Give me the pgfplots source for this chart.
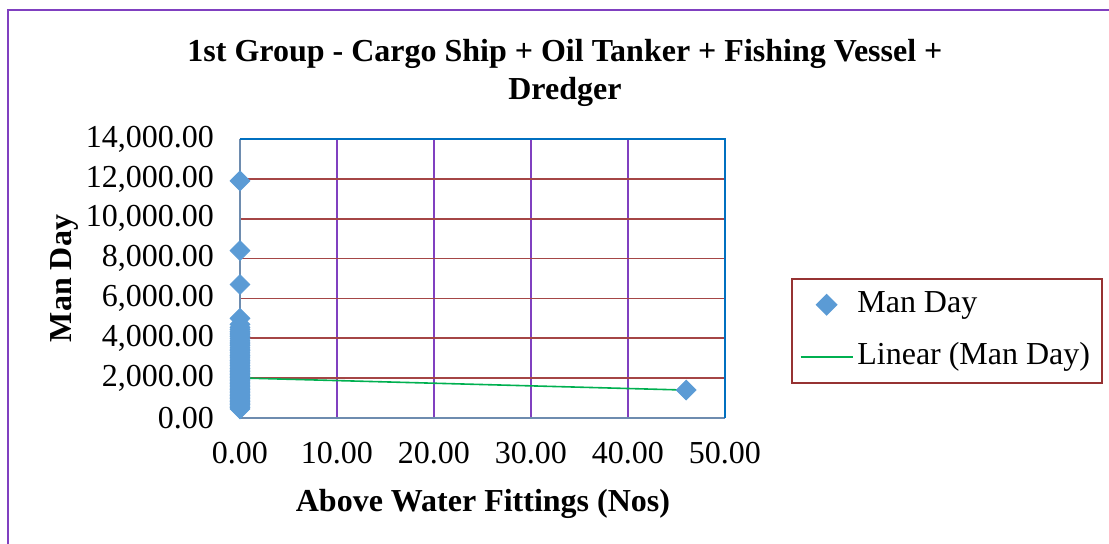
\documentclass[border=0pt]{standalone}
\usepackage{pgfplots}
\pgfplotsset{compat=1.18}
\usepackage{fontspec}
\setmainfont{Liberation Serif}

\definecolor{mdblue}{RGB}{91,155,213}
\definecolor{trendgreen}{RGB}{0,176,80}
\definecolor{hgrid}{RGB}{165,70,70}
\definecolor{vgrid}{RGB}{128,64,192}
\definecolor{framepurple}{RGB}{128,64,192}
\definecolor{axblue}{RGB}{0,112,192}
\definecolor{axgrey}{RGB}{110,140,175}
\definecolor{legred}{RGB}{150,50,50}

\pgfplotsset{
  markleg/.style={legend image code/.code={\draw[##1, mark repeat=2, mark phase=2]
    plot coordinates {(0pt,0pt) (13pt,0pt) (26pt,0pt)};}},
  lineleg/.style={legend image code/.code={\draw[##1] (0pt,0pt) -- (26pt,0pt);}},
}

\begin{document}
\begin{tikzpicture}
\useasboundingbox (-120pt,-63pt) rectangle (434.5pt,209pt);
% chart area border (only left and top show)
\draw[framepurple, line width=0.8pt] (-116pt,-80pt) -- (-116pt,204pt) -- (450pt,204pt);
\begin{axis}[
  at={(0,0)}, anchor=south west,
  scale only axis, width=242.5pt, height=139.5pt,
  xmin=0, xmax=50, ymin=0, ymax=14000,
  xtick={0,10,...,50}, ytick={0,2000,...,14000},
  scaled x ticks=false, scaled y ticks=false,
  /pgf/number format/.cd, fixed, fixed zerofill, precision=2, 1000 sep={,}, assume math mode=true,
  /pgfplots/.cd,
  tick style={draw=none},
  axis line style={draw=none},
  grid=major,
  major x grid style={vgrid, line width=0.8pt},
  major y grid style={hgrid, line width=0.8pt},
  ticklabel style={font=\fontsize{16}{18}\selectfont},
  xticklabel style={yshift=-8.5pt},
  yticklabel style={xshift=-9.5pt},
  clip=false,
  title={1st Group - Cargo Ship + Oil Tanker + Fishing Vessel +\\Dredger},
  title style={font=\fontsize{16}{19}\selectfont\bfseries, align=center,
    at={(axis description cs:0.67,1.194)}, anchor=center},
  xlabel={Above Water Fittings (Nos)},
  xlabel style={font=\fontsize{16}{18}\selectfont\bfseries,
    at={(axis description cs:0.501,-0.308)}, anchor=center},
  ylabel={Man Day},
  ylabel style={font=\fontsize{16}{18}\selectfont\bfseries,
    at={(axis description cs:-0.362,0.5)}, anchor=center},
  legend style={at={(axis description cs:1.136,0.502)}, anchor=north west,
    draw=legred, line width=0.8pt, font=\fontsize{16}{18}\selectfont,
    inner xsep=4pt, inner ysep=4pt, row sep=8pt,
    nodes={text height=11pt, text depth=3pt}},
  legend cell align=left,
]
% axis lines
\draw[axgrey, line width=1pt] (rel axis cs:0,1) -- (rel axis cs:0,0) -- (rel axis cs:1,0);
\draw[axblue, line width=1pt] (rel axis cs:0,1) -- (rel axis cs:1,1) -- (rel axis cs:1,0);

\addplot[only marks, mark=square*, mark size=3.5pt,
  mark options={rotate=45, fill=mdblue, draw=mdblue}, markleg]
  coordinates {
  (0,450) (0,520) (0,600) (0,680) (0,750) (0,820) (0,900) (0,980)
  (0,1050) (0,1120) (0,1200) (0,1280) (0,1350) (0,1420) (0,1500)
  (0,1580) (0,1650) (0,1720) (0,1800) (0,1880) (0,1950) (0,2030)
  (0,2100) (0,2180) (0,2250) (0,2330) (0,2400) (0,2480) (0,2560)
  (0,2640) (0,2720) (0,2800) (0,2880) (0,2960) (0,3050) (0,3130)
  (0,3210) (0,3300) (0,3380) (0,3460) (0,3550) (0,3640) (0,3720)
  (0,3810) (0,3900) (0,3990) (0,4080) (0,4170) (0,4260) (0,4350)
  (0,4450) (0,4550) (0,4700) (0,5000) (0,6700) (0,8400) (0,11900)
  (46,1400)
  };
\addlegendentry{Man Day}
\addplot[trendgreen, line width=0.8pt, no marks, lineleg]
  coordinates {(0,2010) (46,1400)};
\addlegendentry{Linear (Man Day)}
\end{axis}
\end{tikzpicture}
\end{document}
